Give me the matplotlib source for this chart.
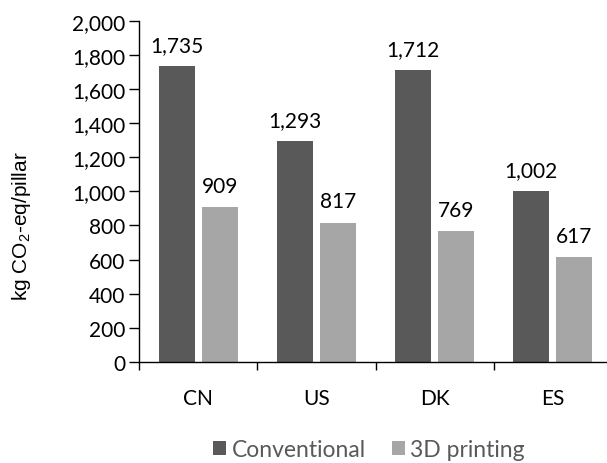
import matplotlib
matplotlib.use("Agg")
import matplotlib.pyplot as plt
import numpy as np
from matplotlib.ticker import FuncFormatter, FixedLocator

plt.rcParams['font.family'] = ['Lato', 'DejaVu Sans']

categories = ["CN", "US", "DK", "ES"]
conventional = [1735, 1293, 1712, 1002]
printing3d = [909, 817, 769, 617]
series_names = ["Conventional", "3D printing"]
ylabel = r"kg CO$_\mathregular{2}$-eq/pillar"

dark = "#595959"
light = "#A6A6A6"

fig = plt.figure(figsize=(6.07, 4.64), dpi=100)
ax = fig.add_axes([139/607, (464-363)/464, 473/607, (363-21.7)/464])

x = np.arange(len(categories))
w = 0.305
off = 0.182
b1 = ax.bar(x - off, conventional, width=w, color=dark, label=series_names[0])
b2 = ax.bar(x + off, printing3d, width=w, color=light, label=series_names[1])

fs = 15
for bars, vals in ((b1, conventional), (b2, printing3d)):
    for r, v in zip(bars, vals):
        ax.annotate(f"{v:,}", (r.get_x() + r.get_width()/2, v), xytext=(0, 8),
                    textcoords="offset points", ha="center", va="bottom", fontsize=fs)

ax.set_xlim(-0.5, len(categories) - 0.5)
ax.set_ylim(0, 2000)
ax.set_yticks(np.arange(0, 2001, 200))
ax.yaxis.set_major_formatter(FuncFormatter(lambda v, p: f"{int(v):,}"))
ax.set_xticks(x)
ax.set_xticklabels(categories, fontsize=fs)
ax.xaxis.set_minor_locator(FixedLocator(np.arange(-0.5, len(categories), 1.0)))
ax.tick_params(axis='x', which='major', length=0, pad=19)
ax.tick_params(axis='x', which='minor', length=6, width=1, direction='out')
ax.tick_params(axis='y', length=7, width=1, labelsize=fs, pad=3)
for s in ("top", "right"):
    ax.spines[s].set_visible(False)
for s in ("left", "bottom"):
    ax.spines[s].set_linewidth(1)
    ax.spines[s].set_color("black")

fig.text(22/607, (464-226)/464, ylabel, rotation=90, ha="center", va="center",
         fontsize=15, family=["Liberation Sans", "DejaVu Sans"])

fig.legend(handles=[b1, b2], loc="center", bbox_to_anchor=(369/607, (464-451)/464),
           ncol=2, frameon=False, fontsize=16.5, handlelength=0.55, handleheight=0.55,
           handletextpad=0.25, columnspacing=1.15, labelcolor="#595959",
           borderpad=0)

fig.savefig("out.png", dpi=100)
